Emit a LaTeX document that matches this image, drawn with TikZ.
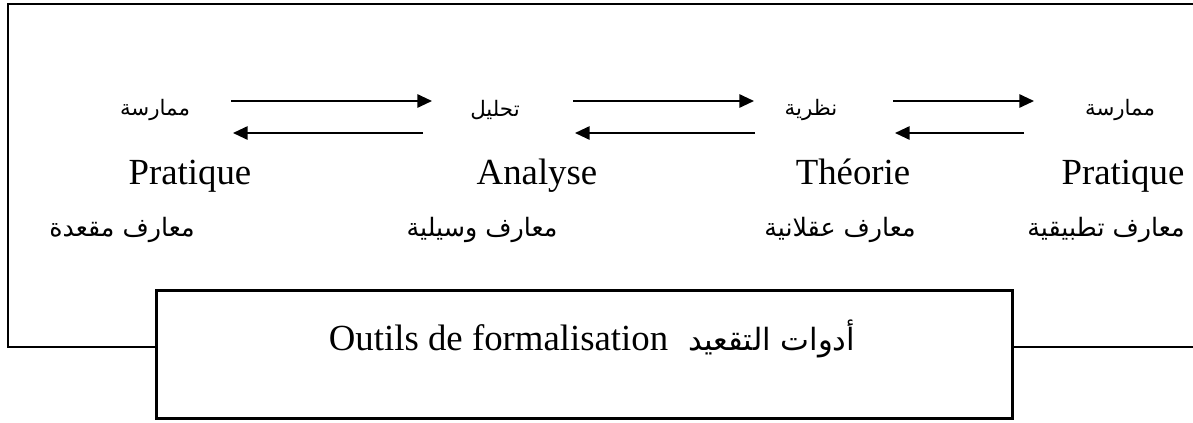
\documentclass[tikz,border=0pt]{standalone}
\usepackage{fontspec}
\setmainfont{Liberation Serif}
\newfontfamily\arabicfont[Script=Arabic]{DejaVu Sans}
\TeXXeTstate=1
\usetikzlibrary{arrows.meta, positioning, calc}

\begin{document}
\begin{tikzpicture}[
    x=0.75pt, y=-0.75pt,
    arlabel/.style={inner sep=0pt, font=\arabicfont\fontsize{16}{19}\selectfont},
    knowlabel/.style={inner sep=0pt, font=\arabicfont\fontsize{19}{23}\selectfont},
    frlabel/.style={inner sep=0pt, anchor=base, font=\fontsize{27.6}{33}\selectfont},
    boxlabel/.style={inner sep=0pt, anchor=base, font=\fontsize{27.6}{33}\selectfont},
    toolbox/.style={rectangle, draw, fill=white, line width=1.7pt, minimum width=642pt, minimum height=96pt},
    frame/.style={line width=1.7pt},
    arrow/.style={-{Triangle[length=11pt, width=10pt]}, line width=1.4pt}
]
    \useasboundingbox (0,0) rectangle (1193,422);

    % Arabic terms, first row
    \node[arlabel] (prac1ar) at (155,110) {\beginR ممارسة\endR};
    \node[arlabel] (analar)  at (495,110) {\beginR تحليل\endR};
    \node[arlabel] (theoar)  at (811,110) {\beginR نظرية\endR};
    \node[arlabel] (prac2ar) at (1120,110) {\beginR ممارسة\endR};

    % French terms
    \node[frlabel] (prac1fr) at (190,184) {Pratique};
    \node[frlabel] (analfr)  at (537,184) {Analyse};
    \node[frlabel] (theofr)  at (853,184) {Théorie};
    \node[frlabel] (prac2fr) at (1123,184) {Pratique};

    % kinds of knowledge
    \node[knowlabel] (know1) at (122,230) {\beginR معارف مقعدة\endR};
    \node[knowlabel] (know2) at (482,230) {\beginR معارف وسيلية\endR};
    \node[knowlabel] (know3) at (840,230) {\beginR معارف عقلانية\endR};
    \node[knowlabel] (know4) at (1106,230) {\beginR معارف تطبيقية\endR};

    % back and forth arrows
    \draw[arrow] ($(prac1ar)+(76,-9)$) -- ($(analar)+(-63,-9)$);
    \draw[arrow] ($(analar)+(-72,23)$) -- ($(prac1ar)+(78,23)$);
    \draw[arrow] ($(analar)+(78,-9)$) -- ($(theoar)+(-57,-9)$);
    \draw[arrow] ($(theoar)+(-56,23)$) -- ($(analar)+(80,23)$);
    \draw[arrow] ($(theoar)+(82,-9)$) -- ($(prac2ar)+(-86,-9)$);
    \draw[arrow] ($(prac2ar)+(-96,23)$) -- ($(theoar)+(84,23)$);

    % outer frame and tools box
    \coordinate (framecorner) at (8,347);
    \node[toolbox] (tools) at (584.5,354.5) {};
    \draw[frame] (tools.west |- framecorner) -- (framecorner) -- (8,4) -- (1205,4);
    \draw[frame] (tools.east |- framecorner) -- (1205,347);
    \node[boxlabel] (toolslabel) at (592,350) {Outils de formalisation\hspace{15pt}{\arabicfont\fontsize{23}{27}\selectfont\beginR أدوات التقعيد\endR}};

\end{tikzpicture}
\end{document}
